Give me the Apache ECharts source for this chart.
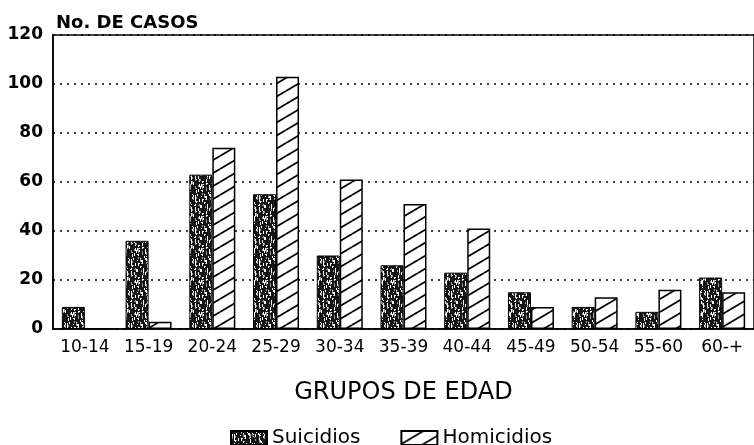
<!DOCTYPE html>
<html>
<head>
<meta charset="utf-8">
<script src="https://cdn.jsdelivr.net/npm/echarts@6/dist/echarts.min.js"></script>
<style>
  html, body { margin: 0; padding: 0; background: #fff; }
  #main { width: 754px; height: 445px; }
</style>
</head>
<body>
<div id="main"></div>
<script>
  // datos
  var grupos = ['10-14', '15-19', '20-24', '25-29', '30-34', '35-39', '40-44', '45-49', '50-54', '55-60', '60-+'];
  var suicidios = [9, 36, 63, 55, 30, 26, 23, 15, 9, 7, 21];
  var homicidios = [0, 3, 74, 103, 61, 51, 41, 9, 13, 16, 15];
  var ticksY = [0, 20, 40, 60, 80, 100, 120];

  // textura punteada (suicidios)
  function stipple() {
    var n = 32;
    var c = document.createElement('canvas');
    c.width = n; c.height = n;
    var ctx = c.getContext('2d');
    ctx.fillStyle = '#151515';
    ctx.fillRect(0, 0, n, n);
    var s = 12345;
    function next(m) {
      s = (s * 1103515245 + 12345) % 2147483648;
      return Math.floor(s / 65536) % m;
    }
    for (var i = 0; i < 160; i++) {
      var x = next(n), y = next(n);
      ctx.fillStyle = next(3) ? '#fff' : '#999';
      ctx.fillRect(x, y, 1, 1 + next(3));
    }
    return c;
  }

  // rayado diagonal (homicidios)
  function hatch() {
    var w = 22, h = 13;
    var c = document.createElement('canvas');
    c.width = w; c.height = h;
    var ctx = c.getContext('2d');
    ctx.fillStyle = '#fff';
    ctx.fillRect(0, 0, w, h);
    ctx.strokeStyle = '#000';
    ctx.lineWidth = 1.8;
    [-h, 0, h].forEach(function (d) {
      ctx.beginPath();
      ctx.moveTo(0, h + d);
      ctx.lineTo(w, d);
      ctx.stroke();
    });
    return c;
  }

  var chart = echarts.init(document.getElementById('main'));
  chart.setOption({
    animation: false,
    backgroundColor: '#fff',
    title: {
      text: 'No. DE CASOS',
      left: 51, top: 9,
      textStyle: { fontFamily: 'DejaVu Sans', fontWeight: 'bold', fontSize: 18, color: '#000' }
    },
    legend: {
      left: 230, top: 428,
      padding: 0,
      icon: 'rect',
      itemWidth: 36, itemHeight: 14, itemGap: 40,
      textStyle: { fontFamily: 'DejaVu Sans', fontSize: 20, color: '#000' },
      data: ['Suicidios', 'Homicidios']
    },
    grid: {
      left: 53, top: 35, width: 702, bottom: 116,
      show: true, borderColor: '#000', borderWidth: 1.5
    },
    xAxis: {
      type: 'category',
      data: grupos,
      name: 'GRUPOS DE EDAD',
      nameLocation: 'middle',
      nameGap: 52,
      nameTextStyle: { fontFamily: 'DejaVu Sans', fontSize: 24, color: '#000' },
      axisLine: { lineStyle: { color: '#000', width: 1.5 } },
      axisTick: { show: false },
      axisLabel: { interval: 0, hideOverlap: false, margin: 10, fontFamily: 'DejaVu Sans', fontSize: 17, color: '#000' }
    },
    yAxis: {
      type: 'value',
      min: ticksY[0], max: ticksY[ticksY.length - 1], interval: 20,
      axisLine: { show: true, lineStyle: { color: '#000', width: 1.5 } },
      axisTick: { show: false },
      axisLabel: { margin: 10, fontFamily: 'DejaVu Sans', fontWeight: 'bold', fontSize: 17, color: '#000' },
      splitLine: { lineStyle: { color: '#000', type: [2, 5], width: 1.5 } }
    },
    series: [
      {
        name: 'Suicidios', type: 'bar', data: suicidios,
        barWidth: 23, barGap: '0%',
        itemStyle: { color: { image: stipple(), repeat: 'repeat' }, borderColor: '#000', borderWidth: 1 }
      },
      {
        name: 'Homicidios', type: 'bar', data: homicidios,
        barWidth: 23,
        itemStyle: { color: { image: hatch(), repeat: 'repeat' }, borderColor: '#000', borderWidth: 1.5 }
      }
    ]
  });
</script>
</body>
</html>
